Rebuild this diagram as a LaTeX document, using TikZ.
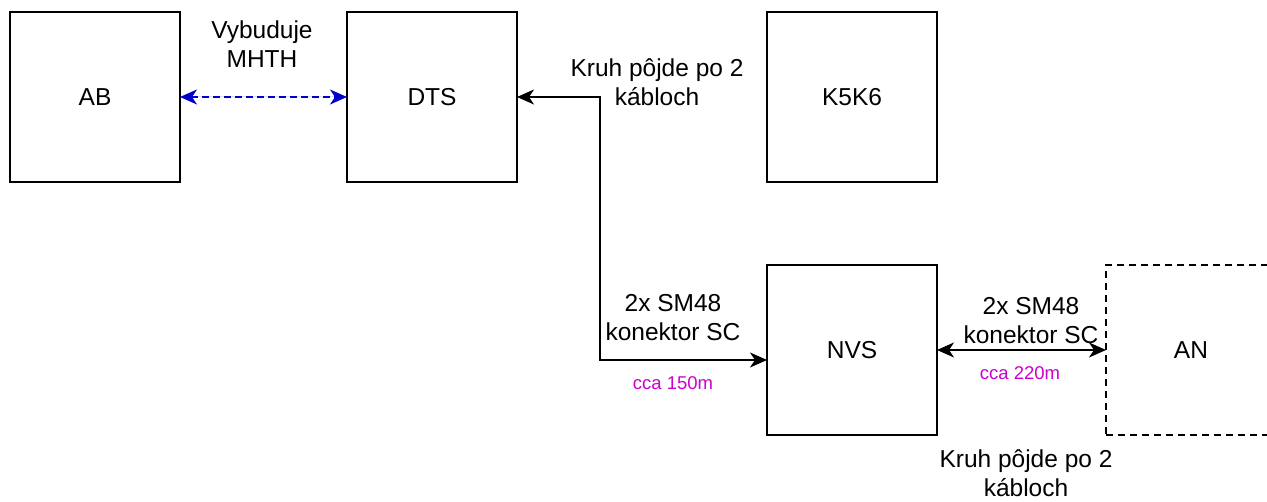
\documentclass[tikz,border=0pt]{standalone}
\usepackage{fontspec}
\setmainfont{Liberation Sans}
\usepackage{xcolor}
\usepackage{tikz}
\usetikzlibrary{arrows.meta,positioning}
\definecolor{linkblue}{RGB}{0,0,204}
\definecolor{lenpink}{RGB}{204,0,204}
\tikzset{
  sitebox/.style={
    rectangle,
    draw=black,
    line width=1.8pt,
    minimum width=170pt,
    minimum height=170pt,
    inner sep=0pt,
    outer sep=0pt,
    font=\fontsize{24.5}{29}\selectfont
  },
  sitedashed/.style={
    sitebox,
    line width=1.6pt,
    dash pattern=on 7pt off 5pt
  },
  cablearrow/.style={
    {Stealth[length=17pt,width=15pt,inset=5pt]}-{Stealth[length=17pt,width=15pt,inset=5pt]},
    line width=1.7pt,
    draw=black
  },
  cablenote/.style={
    align=center,
    inner sep=0pt,
    font=\fontsize{24.5}{29}\selectfont
  },
  cablelen/.style={
    text=lenpink,
    inner sep=0pt,
    font=\fontsize{18.5}{22}\selectfont
  }
}

\begin{document}
\begin{tikzpicture}[x=1pt,y=1pt]
\useasboundingbox (0,0) rectangle (1267,501);
\node[sitebox] (ab) at (95,404) {AB};
\node[sitebox, right=167pt of ab] (dts) {DTS};
\node[sitebox, right=250pt of dts] (k5k6) {K5K6};
\node[sitebox, below=83pt of k5k6] (nvs) {NVS};
\node[sitedashed, right=169pt of nvs] (an) {AN};

\coordinate (bend) at (600,404);

\draw[cablearrow, draw=linkblue, fill=linkblue, dash pattern=on 7pt off 4pt, line width=1.5pt] (ab) -- (dts);
\draw[cablearrow] (dts.east) -- (bend) |- ([yshift=-10pt]nvs.west);
\draw[cablearrow] (nvs) -- (an);

\node[cablenote] (mhth) at (262,457) {Vybuduje\\MHTH};
\node[cablenote] (ringtop) at (657,419) {Kruh pôjde po 2\\kábloch};
\node[cablenote] (smleft) at (673,183) {2x SM48\\konektor SC};
\node[cablelen] (lenleft) at (673,118) {cca 150m};
\node[cablenote] (smright) at (1031,180) {2x SM48\\konektor SC};
\node[cablelen] (lenright) at (1020,128) {cca 220m};
\node[cablenote] (ringbottom) at (1026,28) {Kruh pôjde po 2\\kábloch};
\end{tikzpicture}
\end{document}
